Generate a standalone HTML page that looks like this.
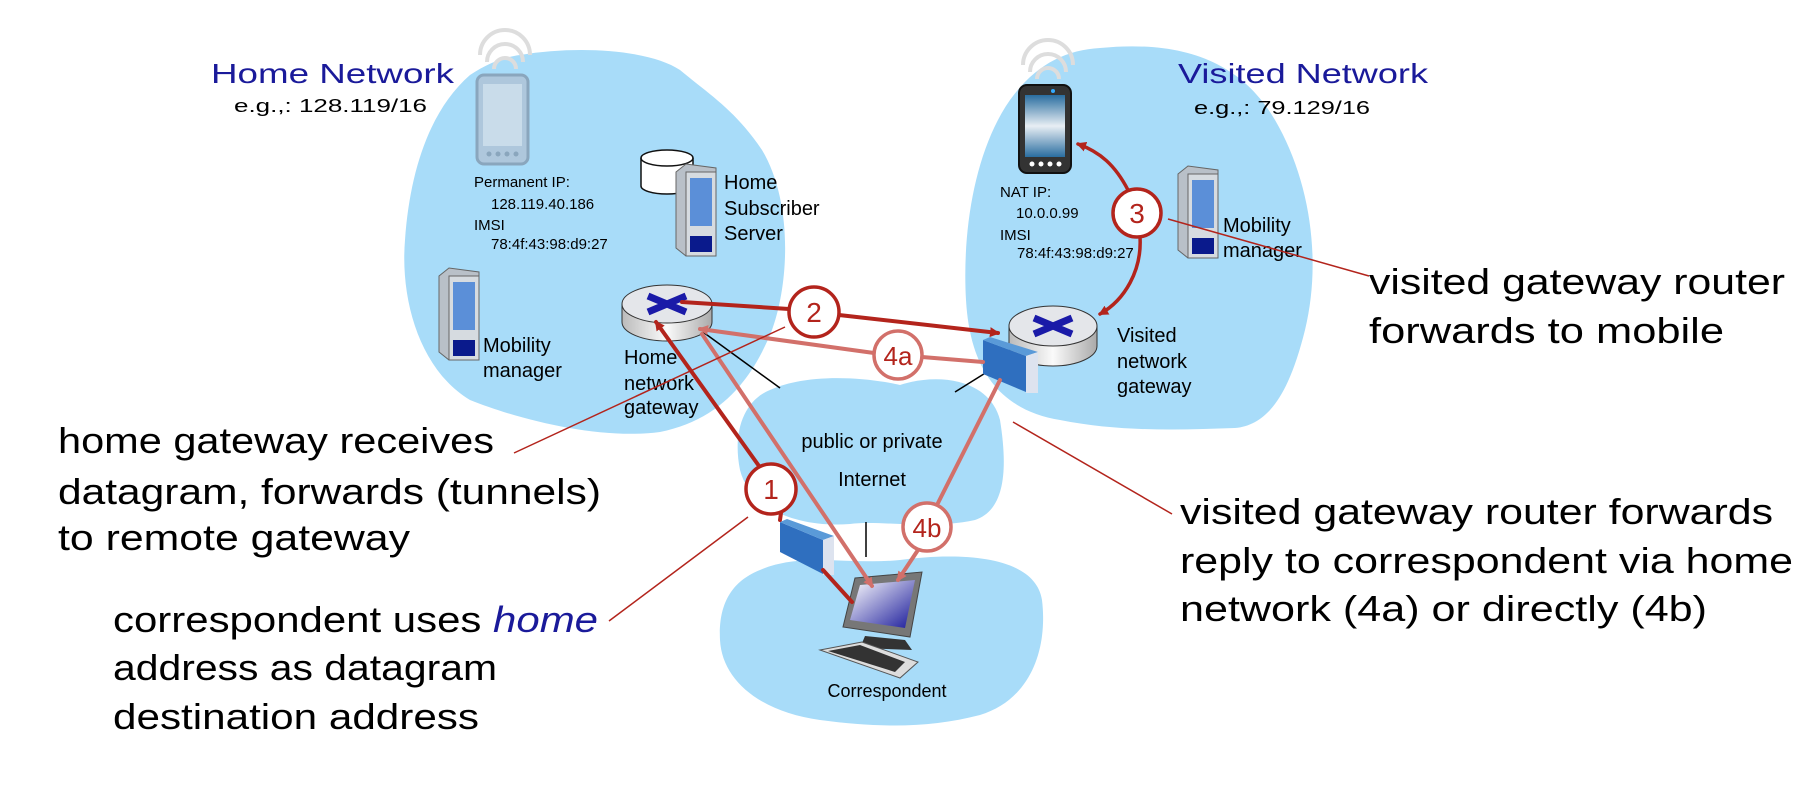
<!DOCTYPE html>
<html><head><meta charset="utf-8"><style>
html,body{margin:0;padding:0;background:#fff;}
svg{display:block;font-family:"Liberation Sans",sans-serif;}
</style></head><body>
<svg width="1802" height="798" viewBox="0 0 1802 798" xmlns="http://www.w3.org/2000/svg">
<defs>
<marker id="ad" markerWidth="10" markerHeight="10" refX="8" refY="5" orient="auto" markerUnits="userSpaceOnUse"><path d="M0,0 L10,5 L0,10 Z" fill="#b3241c"/></marker>
<marker id="al" markerWidth="10" markerHeight="10" refX="8" refY="5" orient="auto" markerUnits="userSpaceOnUse"><path d="M0,0 L10,5 L0,10 Z" fill="#d2706a"/></marker>
<linearGradient id="scr" x1="0" y1="0" x2="1" y2="1"><stop offset="0" stop-color="#fff"/><stop offset="1" stop-color="#1a1a9a"/></linearGradient>
<linearGradient id="ph" x1="0" y1="0" x2="0" y2="1"><stop offset="0" stop-color="#2a6ea0"/><stop offset="0.5" stop-color="#e8eef4"/><stop offset="1" stop-color="#2a6ea0"/></linearGradient>
<linearGradient id="rt" x1="0" y1="0" x2="1" y2="0"><stop offset="0" stop-color="#bbb"/><stop offset="0.5" stop-color="#fafafa"/><stop offset="1" stop-color="#aaa"/></linearGradient>
</defs>

<!-- clouds -->
<g fill="#a8dcf9">
<path d="M520 55 C580 45,650 50,680 70 C710 95,735 110,762 150 C792 200,790 280,772 330 C752 380,720 420,660 432 C600 440,520 420,470 400 C420 370,400 300,405 240 C410 170,430 110,470 75 C490 62,505 57,520 55 Z"/>
<path d="M1100 48 C1180 40,1240 60,1275 120 C1310 180,1322 260,1305 330 C1290 390,1270 425,1235 428 C1180 430,1120 432,1060 420 C1000 410,970 370,966 300 C962 230,975 150,1010 100 C1035 65,1065 50,1100 48 Z"/>
<path d="M770 390 C810 372,870 378,900 385 C940 372,990 380,1000 420 C1008 470,1005 510,975 520 C930 530,880 520,850 524 C800 528,750 510,740 470 C732 430,745 400,770 390 Z"/>
<path d="M760 570 C800 552,850 565,900 560 C960 552,1035 555,1042 600 C1048 650,1030 700,980 715 C930 728,880 728,820 720 C760 712,722 680,720 640 C718 600,735 580,760 570 Z"/>
</g>

<!-- titles -->
<text x="211" y="83" font-size="28" fill="#1a1a9a" textLength="243" lengthAdjust="spacingAndGlyphs">Home Network</text>
<text x="234" y="112" font-size="18" textLength="193" lengthAdjust="spacingAndGlyphs">e.g.,: 128.119/16</text>
<text x="1178" y="83" font-size="28" fill="#1a1a9a" textLength="250" lengthAdjust="spacingAndGlyphs">Visited Network</text>
<text x="1194" y="114" font-size="18" textLength="176" lengthAdjust="spacingAndGlyphs">e.g.,: 79.129/16</text>

<!-- wifi arcs -->
<g fill="none" stroke="#ddd" stroke-width="4">
<path d="M487 62 A18 18 0 0 1 523 62"/><path d="M480 55 A25 25 0 0 1 530 55"/><path d="M494 69 A11 11 0 0 1 516 69"/>
<path d="M1030 72 A18 18 0 0 1 1066 72"/><path d="M1023 65 A25 25 0 0 1 1073 65"/><path d="M1037 79 A11 11 0 0 1 1059 79"/>
</g>
<!-- home phone -->
<rect x="477" y="75" width="51" height="89" rx="7" fill="#aec7dc" stroke="#8aa6bd" stroke-width="3"/>
<rect x="483" y="84" width="39" height="62" fill="#c9dcea"/>
<g fill="#8aa6bd"><circle cx="489" cy="154" r="2.5"/><circle cx="498" cy="154" r="2.5"/><circle cx="507" cy="154" r="2.5"/><circle cx="516" cy="154" r="2.5"/></g>
<!-- visited phone -->
<rect x="1019" y="85" width="52" height="88" rx="8" fill="#333" stroke="#111" stroke-width="2"/>
<rect x="1025" y="95" width="40" height="62" fill="url(#ph)"/>
<circle cx="1053" cy="91" r="2" fill="#3af"/>
<g fill="#fff"><circle cx="1032" cy="164" r="2.5"/><circle cx="1041" cy="164" r="2.5"/><circle cx="1050" cy="164" r="2.5"/><circle cx="1059" cy="164" r="2.5"/></g>

<!-- home text -->
<g font-size="15">
<text x="474" y="187">Permanent IP:</text>
<text x="491" y="209">128.119.40.186</text>
<text x="474" y="230">IMSI</text>
<text x="491" y="249">78:4f:43:98:d9:27</text>
<text x="1000" y="197">NAT IP:</text>
<text x="1016" y="218">10.0.0.99</text>
<text x="1000" y="240">IMSI</text>
<text x="1017" y="258">78:4f:43:98:d9:27</text>
</g>

<!-- cylinder -->
<path d="M641 158 L641 186 A26 8 0 0 0 693 186 L693 158" fill="#fff" stroke="#111" stroke-width="1.5"/>
<ellipse cx="667" cy="158" rx="26" ry="8" fill="#fff" stroke="#111" stroke-width="1.5"/>
<!-- servers -->
<g id="srv">
<path d="M676 172 L686 164 L716 168 L716 256 L686 256 L676 248 Z" fill="#b9c0c8" stroke="#666"/>
<rect x="686" y="172" width="30" height="84" fill="#d6dbe0" stroke="#666"/>
<rect x="690" y="178" width="22" height="48" fill="#5b8fd8"/>
<rect x="690" y="236" width="22" height="16" fill="#0a1a8c"/>
</g>
<g transform="translate(-237,104)">
<path d="M676 172 L686 164 L716 168 L716 256 L686 256 L676 248 Z" fill="#b9c0c8" stroke="#666"/>
<rect x="686" y="172" width="30" height="84" fill="#d6dbe0" stroke="#666"/>
<rect x="690" y="178" width="22" height="48" fill="#5b8fd8"/>
<rect x="690" y="236" width="22" height="16" fill="#0a1a8c"/>
</g>
<g transform="translate(502,2)">
<path d="M676 172 L686 164 L716 168 L716 256 L686 256 L676 248 Z" fill="#b9c0c8" stroke="#666"/>
<rect x="686" y="172" width="30" height="84" fill="#d6dbe0" stroke="#666"/>
<rect x="690" y="178" width="22" height="48" fill="#5b8fd8"/>
<rect x="690" y="236" width="22" height="16" fill="#0a1a8c"/>
</g>
<g font-size="20">
<text x="724" y="189">Home</text>
<text x="724" y="215">Subscriber</text>
<text x="724" y="240">Server</text>
<text x="483" y="352">Mobility</text>
<text x="483" y="377">manager</text>
<text x="1223" y="232">Mobility</text>
<text x="1223" y="257">manager</text>
<text x="624" y="364">Home</text>
<text x="624" y="390">network</text>
<text x="624" y="414">gateway</text>
<text x="1117" y="342">Visited</text>
<text x="1117" y="368">network</text>
<text x="1117" y="393">gateway</text>
<text x="872" y="448" text-anchor="middle">public or  private</text>
<text x="872" y="486" text-anchor="middle">Internet</text>
</g>
<text x="887" y="697" font-size="18" text-anchor="middle">Correspondent</text>

<!-- routers -->
<g>
<path d="M622 304 L622 322 A45 19 0 0 0 712 322 L712 304" fill="url(#rt)" stroke="#333"/>
<ellipse cx="667" cy="304" rx="45" ry="19" fill="#e4e6ea" stroke="#333"/>
<path d="M648 296 L686 312 M686 296 L648 312" stroke="#1a1aa8" stroke-width="7"/>
</g>
<g>
<path d="M1009 326 L1009 346 A44 20 0 0 0 1097 346 L1097 326" fill="url(#rt)" stroke="#333"/>
<ellipse cx="1053" cy="326" rx="44" ry="20" fill="#e4e6ea" stroke="#333"/>
<path d="M1034 318 L1072 334 M1072 318 L1034 334" stroke="#1a1aa8" stroke-width="7"/>
</g>

<!-- black links -->
<g stroke="#000" stroke-width="1.5">
<line x1="703" y1="332" x2="780" y2="388"/>
<line x1="987" y1="372" x2="955" y2="392"/>
<line x1="866" y1="522" x2="866" y2="557"/>
</g>

<!-- firewalls -->
<polygon points="983,340 1026,356 1026,392 983,374" fill="#2f6fbf"/>
<polygon points="983,340 990,337 1038,352 1026,356" fill="#5a9ad8"/>
<polygon points="1026,356 1038,352 1038,393 1026,393" fill="#dde3ef"/>
<polygon points="780,522 823,540 823,574 780,552" fill="#2f6fbf"/>
<polygon points="780,522 787,519 834,536 823,540" fill="#5a9ad8"/>
<polygon points="823,540 834,536 834,575 823,575" fill="#dde3ef"/>

<!-- computer -->
<polygon points="855,578 922,572 910,637 843,627" fill="#777" stroke="#444"/>
<polygon points="860,585 915,580 905,628 850,620" fill="url(#scr)"/>
<polygon points="865,636 905,640 912,650 860,648" fill="#333"/>
<polygon points="820,650 862,642 918,662 900,678" fill="#ddd" stroke="#555"/>
<polygon points="828,651 860,645 905,662 895,672" fill="#333"/>

<!-- arrows -->
<g fill="none" stroke-linecap="round">
<!-- 4a light -->
<path d="M983 362 L922 357" stroke="#d2706a" stroke-width="4"/>
<path d="M874 353 L700 329" stroke="#d2706a" stroke-width="4" marker-end="url(#al)"/>
<path d="M702 334 L872 586" stroke="#d2706a" stroke-width="4" marker-end="url(#al)"/>
<!-- 4b -->
<path d="M1000 380 L938 503" stroke="#d2706a" stroke-width="4"/>
<path d="M918 550 L898 580" stroke="#d2706a" stroke-width="4" marker-end="url(#al)"/>
<!-- 1 -->
<path d="M852 602 L823 570"  stroke="#b3241c" stroke-width="4"/>
<path d="M780 520 L781 513" stroke="#b3241c" stroke-width="4"/>
<path d="M759 466 L656 322" stroke="#b3241c" stroke-width="4" marker-end="url(#ad)"/>
<!-- 2 -->
<path d="M682 302 L789 309" stroke="#b3241c" stroke-width="4"/>
<path d="M839 315 L998 333" stroke="#b3241c" stroke-width="4" marker-end="url(#ad)"/>
<!-- 3 -->
<path d="M1128 190 C1115 165,1100 152,1078 144" stroke="#b3241c" stroke-width="3.5" marker-end="url(#ad)"/>
<path d="M1140 237 C1142 270,1125 300,1100 314" stroke="#b3241c" stroke-width="3.5" marker-end="url(#ad)"/>
</g>

<!-- leader lines -->
<g stroke="#b3241c" stroke-width="1.5">
<line x1="514" y1="453" x2="785" y2="327"/>
<line x1="609" y1="621" x2="748" y2="517"/>
<line x1="1013" y1="422" x2="1172" y2="514"/>
<line x1="1168" y1="219" x2="1369" y2="276"/>
</g>

<!-- circles -->
<g fill="#fff" stroke-width="3.5">
<circle cx="814" cy="312" r="25" stroke="#b3241c"/>
<circle cx="898" cy="355" r="24" stroke="#d2706a"/>
<circle cx="771" cy="489" r="25" stroke="#b3241c"/>
<circle cx="927" cy="527" r="24" stroke="#d2706a"/>
<circle cx="1137" cy="213" r="24" stroke="#b3241c"/>
</g>
<g font-size="28" fill="#b3241c" text-anchor="middle">
<text x="814" y="322">2</text>
<text x="898" y="365" font-size="26">4a</text>
<text x="771" y="499">1</text>
<text x="927" y="537" font-size="26">4b</text>
<text x="1137" y="223">3</text>
</g>

<!-- big annotations -->
<g font-size="36" lengthAdjust="spacingAndGlyphs">
<text x="58" y="453" textLength="436" lengthAdjust="spacingAndGlyphs">home gateway receives</text>
<text x="58" y="504" textLength="543" lengthAdjust="spacingAndGlyphs">datagram, forwards (tunnels)</text>
<text x="58" y="550" textLength="352" lengthAdjust="spacingAndGlyphs">to remote gateway</text>
<text x="113" y="632" textLength="485" lengthAdjust="spacingAndGlyphs">correspondent uses <tspan fill="#1a1a9a" font-style="italic">home</tspan></text>
<text x="113" y="680" textLength="384" lengthAdjust="spacingAndGlyphs">address as datagram</text>
<text x="113" y="729" textLength="366" lengthAdjust="spacingAndGlyphs">destination address</text>
<text x="1369" y="294" textLength="416" lengthAdjust="spacingAndGlyphs">visited gateway router</text>
<text x="1369" y="343" textLength="355" lengthAdjust="spacingAndGlyphs">forwards to mobile</text>
<text x="1180" y="524" textLength="593" lengthAdjust="spacingAndGlyphs">visited gateway router forwards</text>
<text x="1180" y="573" textLength="613" lengthAdjust="spacingAndGlyphs">reply to correspondent via home</text>
<text x="1180" y="621" textLength="527" lengthAdjust="spacingAndGlyphs">network (4a) or directly (4b)</text>
</g>
</svg>
</body></html>
